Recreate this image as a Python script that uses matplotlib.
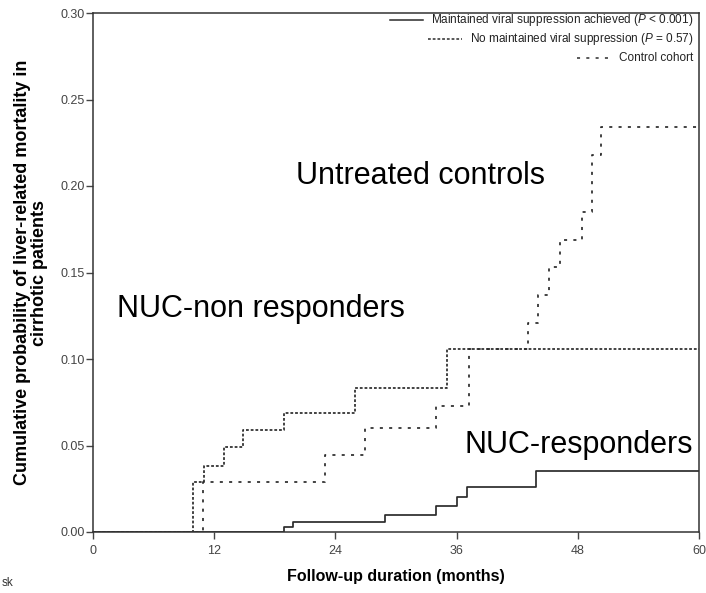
import numpy as np
import matplotlib
matplotlib.use("Agg")
import matplotlib.pyplot as plt

plt.rcParams['font.family'] = ['Liberation Sans', 'DejaVu Sans']
plt.rcParams['mathtext.fontset'] = 'custom'
plt.rcParams['mathtext.it'] = 'Liberation Sans:italic'
plt.rcParams['mathtext.rm'] = 'Liberation Sans'
plt.rcParams['lines.scale_dashes'] = False

# cumulative liver-related mortality, step curves (months, probability)
resp_months = [0, 18.9, 19.8, 28.9, 34.0, 36.0, 37.0, 43.9, 60]
resp_cum = [0, 0.003, 0.006, 0.010, 0.015, 0.020, 0.026, 0.035, 0.035]

nonresp_months = [0, 9.9, 11.0, 13.0, 14.9, 18.9, 25.9, 35.0, 60]
nonresp_cum = [0, 0.029, 0.038, 0.049, 0.059, 0.069, 0.083, 0.106, 0.106]

ctrl_months = [0, 10.9, 23.0, 26.9, 34.0, 37.2, 43.1, 44.1, 45.1, 46.2, 48.4, 49.4, 50.3, 60]
ctrl_cum = [0, 0.029, 0.0445, 0.060, 0.073, 0.106, 0.121, 0.137, 0.153, 0.169, 0.185, 0.218, 0.234, 0.234]

xticks = [0, 12, 24, 36, 48, 60]
yticks = [0.00, 0.05, 0.10, 0.15, 0.20, 0.25, 0.30]

legend_labels = ['Maintained viral suppression achieved ($P$ < 0.001)',
                 'No maintained viral suppression ($P$ = 0.57)',
                 'Control cohort']

col = '#2b2b2b'
dense = (0, (2.0, 1.4))
sparse = (0, (2.2, 4.5))
styles = ['-', dense, sparse]

fig = plt.figure(figsize=(7.06, 5.93), dpi=100)
ax = fig.add_axes([93/706, 1 - 532/593, 606/706, 519/593])

ax.step(resp_months, resp_cum, where='post', color=col, lw=1.25, ls='-')
ax.step(nonresp_months, nonresp_cum, where='post', color=col, lw=1.25, ls=dense)
ax.step(ctrl_months, ctrl_cum, where='post', color=col, lw=1.25, ls=sparse)

ax.set_xlim(0, 60)
ax.set_ylim(0, 0.30)
ax.set_xticks(xticks)
ax.set_yticks(yticks)
ax.set_yticklabels(['%.2f' % v for v in yticks])
ax.tick_params(direction='out', length=5, width=1, colors='#444444', labelsize=9, pad=1)
ax.tick_params(axis='x', pad=4)
for s in ax.spines.values():
    s.set_color('#333333')
    s.set_linewidth(1.1)

ax.set_xlabel('Follow-up duration (months)', fontweight='bold', fontsize=11.5)
ax.xaxis.set_label_coords(0.5, -0.072)
ax.set_ylabel('Cumulative probability of liver-related mortality in\ncirrhotic patients',
              fontweight='bold', fontsize=13, linespacing=1.0)
ax.yaxis.set_label_coords(-0.075, 0.5)

# group labels
ax.text(32.4, 0.206, 'Untreated controls', fontsize=22, ha='center', va='center')
ax.text(2.4, 0.129, 'NUC-non responders', fontsize=22, ha='left', va='center')
ax.text(48.1, 0.050, 'NUC-responders', fontsize=22, ha='center', va='center')

# right-aligned legend, handle drawn to the left of each entry
fig.canvas.draw()
inv = ax.transAxes.inverted()
for i, (lab, st) in enumerate(zip(legend_labels, styles)):
    yy = 0.9865 - i * 0.0366
    t = ax.text(0.99, yy, lab, transform=ax.transAxes, ha='right', va='center',
                fontsize=8.5, color='#222222')
    bb = t.get_window_extent(renderer=fig.canvas.get_renderer()).transformed(inv)
    ax.plot([bb.x0 - 0.068, bb.x0 - 0.012], [yy, yy], transform=ax.transAxes,
            color=col, lw=1.1, ls=st)

fig.text(0.003, 1 - 583/593, 'sk', fontsize=8.5, va='center', color='#333333')

fig.savefig('out.png', dpi=100)
